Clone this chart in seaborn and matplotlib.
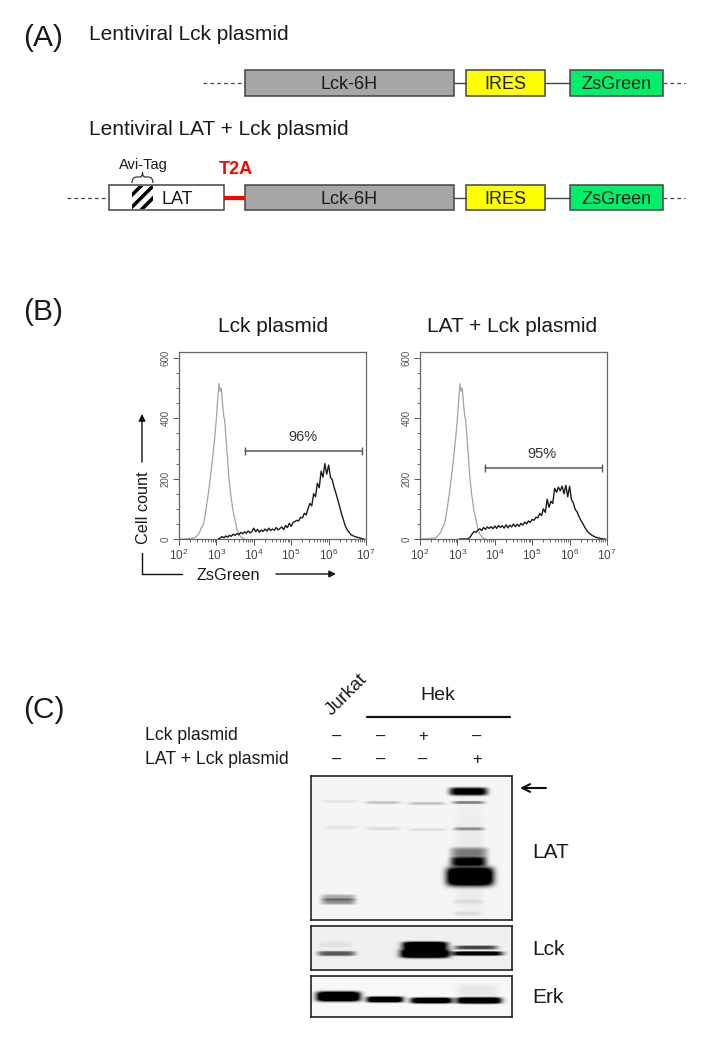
import numpy as np
import pandas as pd
import seaborn as sns
import matplotlib
matplotlib.use('Agg')
from matplotlib import pyplot as plt
from matplotlib.patches import Rectangle, Polygon, PathPatch
from matplotlib.path import Path
from matplotlib.ticker import LogLocator, MultipleLocator, NullFormatter

sns.set_theme(style='white')
plt.rcParams['font.family'] = ['Liberation Sans', 'DejaVu Sans']

W, H = 719, 1041

# histogram values, log10(ZsGreen) vs cell count
gray_x = [2.0, 2.1, 2.2, 2.3, 2.4, 2.45, 2.5, 2.55, 2.6, 2.65, 2.7, 2.75, 2.8, 2.85, 2.9, 2.95, 3.0, 3.03, 3.07,
          3.1, 3.13, 3.17, 3.2, 3.22, 3.25, 3.3, 3.33, 3.38, 3.44, 3.5, 3.55, 3.6, 3.67, 3.75]
gray_y = [0, 0, 1, 2, 4, 7, 14, 22, 38, 48, 80, 120, 165, 215, 270, 330, 400, 455, 515,
          490, 500, 440, 405, 395, 345, 265, 207, 150, 96, 62, 32, 16, 5, 0]

black_x = [3.05, 3.1, 3.15, 3.2, 3.25, 3.3, 3.35, 3.4, 3.45, 3.5, 3.55, 3.6, 3.65, 3.7, 3.75, 3.8, 3.85, 3.9, 3.95,
           4.0, 4.05, 4.1, 4.15, 4.2, 4.25, 4.3, 4.35, 4.4, 4.45, 4.5, 4.55, 4.6, 4.65, 4.7, 4.75, 4.8, 4.85, 4.9,
           4.95, 5.0, 5.05, 5.1, 5.15, 5.2, 5.25, 5.3, 5.35, 5.4, 5.45, 5.5, 5.55, 5.6, 5.65, 5.7, 5.75, 5.8, 5.85,
           5.9, 5.95, 6.0, 6.05, 6.1, 6.15, 6.2, 6.25, 6.3, 6.35, 6.4, 6.45, 6.5, 6.55, 6.6, 6.65, 6.7, 6.75, 6.8,
           6.85, 6.9, 6.95]
lck_y = [0, 3, 8, 4, 10, 6, 12, 9, 16, 12, 18, 14, 22, 17, 24, 19, 27, 20, 25,
         36, 24, 32, 22, 30, 25, 33, 26, 36, 28, 33, 29, 38, 30, 35, 40, 31, 45, 38,
         52, 42, 55, 58, 62, 60, 72, 70, 85, 80, 100, 118, 110, 150, 140, 185, 170, 225, 205,
         250, 215, 245, 205, 195, 170, 150, 128, 105, 82, 62, 42, 30, 22, 14, 11, 8, 6, 5,
         3, 1, 0]
latlck_y = [0, 0, 0, 0, 0, 2, 8, 18, 25, 22, 30, 34, 28, 38, 32, 40, 35, 41, 34,
            43, 35, 45, 38, 44, 36, 47, 37, 46, 40, 50, 41, 49, 42, 52, 46, 56, 50, 60,
            55, 65, 62, 72, 70, 85, 78, 100, 88, 132, 105, 125, 118, 168, 155, 172, 160, 175, 150,
            178, 140, 175, 130, 120, 98, 90, 75, 62, 52, 40, 30, 22, 17, 12, 9, 6, 4, 3,
            1, 0, 0]

# western blot bands: x0, x1, y centre, half height, strength
lat_bands = pd.DataFrame({
    'x0': [449, 452, 323, 365, 408, 453, 323, 365, 408, 453, 321, 321, 450, 450, 446, 453, 453, 455],
    'x1': [487, 484, 357, 400, 445, 484, 357, 400, 445, 484, 355, 355, 487, 486, 493, 482, 480, 483],
    'y': [791, 802, 801, 802, 803, 828, 827, 828, 829, 829, 897, 901, 852, 861, 876, 901, 913, 860],
    'h': [4, 1.5, 1.5, 1.5, 1.5, 1.5, 2, 2, 1.5, 1.5, 3, 3, 5, 4.5, 9.5, 2, 2, 60],
    'v': [1.1, .45, .07, .2, .2, .25, .07, .1, .1, .15, .3, .4, .45, 1.0, 1.5, .08, .08, .04],
})
lck_bands = pd.DataFrame({
    'x0': [317, 402, 400, 454, 452, 318],
    'x1': [355, 447, 449, 497, 502, 352],
    'y': [953, 945, 953, 947, 953, 944],
    'h': [2.5, 3.8, 4.5, 2, 2.2, 3],
    'v': [.6, 1.4, 1.5, .7, 1.2, .06],
})
erk_bands = pd.DataFrame({
    'x0': [316, 366, 410, 456, 457],
    'x1': [360, 403, 452, 501, 498],
    'y': [996, 999, 1000, 1000, 990],
    'h': [5, 3, 3, 3.2, 7],
    'v': [1.5, 1.3, 1.3, 1.4, .07],
})

# plasmid map, x ranges and colours
row1_boxes = [(245, 454, '#a6a6a6', 'Lck-6H'), (466, 545, '#ffff00', 'IRES'), (570, 663, '#00ee6c', 'ZsGreen')]
row2_boxes = row1_boxes + [(109, 224, 'white', '')]
lane_marks_x = [337, 381, 423, 477]
lck_marks = ['–', '–', '+', '–']
latlck_marks = ['–', '–', '–', '+']


def hist_panel(fig, left, y_curve, label_pct, bar_x, bar_count):
    ax = fig.add_axes([left / W, 1 - 539 / H, 187 / W, 187 / H])
    gray = pd.DataFrame({'x': 10.0 ** np.array(gray_x), 'y': gray_y})
    black = pd.DataFrame({'x': 10.0 ** np.array(black_x), 'y': y_curve})
    sns.lineplot(data=gray, x='x', y='y', color='#a3a3a3', lw=0.9, ax=ax, estimator=None, sort=False)
    sns.lineplot(data=black, x='x', y='y', color='#1c1c1c', lw=1.0, ax=ax, estimator=None, sort=False)
    ax.set_xscale('log')
    ax.set_xlim(1e2, 1e7)
    ax.set_ylim(0, 620)
    ax.set_xlabel('')
    ax.set_ylabel('')
    ax.xaxis.set_major_locator(LogLocator(base=10, numticks=8))
    ax.xaxis.set_minor_locator(LogLocator(base=10, subs=np.arange(2, 10), numticks=8))
    ax.xaxis.set_minor_formatter(NullFormatter())
    ax.yaxis.set_major_locator(MultipleLocator(200))
    ax.yaxis.set_minor_locator(MultipleLocator(50))
    ax.tick_params(axis='x', which='major', length=4, width=0.7, color='#555555', labelsize=8.5,
                   labelcolor='#444444', bottom=True, pad=2)
    ax.tick_params(axis='x', which='minor', length=2, width=0.6, color='#555555', bottom=True)
    ax.tick_params(axis='y', which='major', length=4, width=0.7, color='#555555', labelsize=7,
                   labelcolor='#555555', left=True, pad=2)
    ax.tick_params(axis='y', which='minor', length=2, width=0.6, color='#555555', left=True)
    plt.setp(ax.get_yticklabels(), rotation=90, va='center')
    for s in ax.spines.values():
        s.set_color('#666666')
        s.set_linewidth(0.9)
    ax.plot(bar_x, [bar_count, bar_count], color='#555555', lw=1.1, marker='|', ms=6, mew=1.0)
    ax.text(10 ** np.mean(np.log10(bar_x)) * 0.95, bar_count + 22, label_pct, ha='center', va='bottom',
            fontsize=10.5, color='#333333')
    return ax


def blot_panel(fig, x0, x1, y0, y1, bands, bg):
    xs = np.arange(x0, x1, 0.5)
    ys = np.arange(y0, y1, 0.5)
    X, Y = np.meshgrid(xs, ys)
    dark = np.zeros_like(X)
    for b in bands.itertuples():
        cx = (b.x0 + b.x1) / 2
        hw = (b.x1 - b.x0) / 2
        dark += b.v * np.exp(-((X - cx) / hw) ** 6) * np.exp(-((Y - b.y) / b.h) ** 4)
    img = np.clip(bg - dark, 0, 1)
    ax = fig.add_axes([x0 / W, 1 - y1 / H, (x1 - x0) / W, (y1 - y0) / H])
    sns.heatmap(img, cmap='gray', vmin=0, vmax=1, cbar=False, xticklabels=False, yticklabels=False, ax=ax,
                rasterized=True)
    for s in ax.spines.values():
        s.set_visible(True)
        s.set_color('#222222')
        s.set_linewidth(1.2)
    return ax


fig = plt.figure(figsize=(W / 100, H / 100), dpi=100)

hist_panel(fig, 179, lck_y, '96%', [10 ** 3.76, 10 ** 6.89], 293)
hist_panel(fig, 420, latlck_y, '95%', [10 ** 3.73, 10 ** 6.86], 236)

blot_panel(fig, 311, 512, 776, 920, lat_bands, 0.96)
blot_panel(fig, 311, 512, 926, 970, lck_bands, 0.94)
blot_panel(fig, 311, 512, 976, 1017, erk_bands, 0.97)

# overlay in pixel coordinates for the diagram and labels
ov = fig.add_axes([0, 0, 1, 1], zorder=5)
ov.set_xlim(0, W)
ov.set_ylim(H, 0)
ov.axis('off')
ov.patch.set_alpha(0)


def label(x, y, s, size=15, **kw):
    kw.setdefault('ha', 'left')
    kw.setdefault('va', 'center')
    kw.setdefault('color', '#1a1a1a')
    ov.text(x, y + 1.5, s, fontsize=size, **kw)


def plasmid_row(y0, y1, boxes, dash_start):
    mid = (y0 + y1) / 2
    ov.plot([dash_start, boxes[0][0] if dash_start > 150 else 109], [mid, mid], color='#444444', lw=0.9, dashes=(3, 2.5))
    ov.plot([663, 685], [mid, mid], color='#444444', lw=0.9, dashes=(3, 2.5))
    ov.plot([454, 466], [mid, mid], color='#444444', lw=1.0)
    ov.plot([545, 570], [mid, mid], color='#444444', lw=1.0)
    for x0, x1, col, txt in boxes:
        ov.add_patch(Rectangle((x0, y0), x1 - x0, y1 - y0, fc=col, ec='#444444', lw=1.1))
        if txt:
            label((x0 + x1) / 2, mid, txt, 13, ha='center')


label(23, 36, '(A)', 21.5)
label(23, 311, '(B)', 21.5)
label(23, 709, '(C)', 21.5)

label(89, 33, 'Lentiviral Lck plasmid')
label(89, 128, 'Lentiviral LAT + Lck plasmid')
plasmid_row(70, 96, row1_boxes, 203)
plasmid_row(185, 210, row2_boxes, 67)

# hatched Avi-Tag
for sx in [117, 129, 141]:
    pts = [(sx - 2.5, 210), (sx + 2.5, 210), (sx + 27.5, 185), (sx + 22.5, 185)]
    stripe = Polygon(pts, fc='black', ec='none')
    ov.add_patch(stripe)
    stripe.set_clip_path(Rectangle((132, 186), 21, 23, transform=ov.transData))
label(177, 198, 'LAT', 13, ha='center')
label(143, 163, 'Avi-Tag', 10.5, ha='center')
brace = Path([(132, 183), (132, 177), (137, 177), (140, 177), (142.5, 177), (142.5, 172),
              (142.5, 177), (145, 177), (148, 177), (153, 177), (153, 183)],
             [Path.MOVETO, Path.CURVE3, Path.CURVE3, Path.LINETO, Path.CURVE3, Path.CURVE3,
              Path.CURVE3, Path.CURVE3, Path.LINETO, Path.CURVE3, Path.CURVE3])
ov.add_patch(PathPatch(brace, fc='none', ec='#222222', lw=0.8))
ov.plot([224, 245], [197.5, 197.5], color='#ff0000', lw=3, solid_capstyle='butt')
label(236, 168, 'T2A', 13, ha='center', color='#ff0000', fontweight='bold')

label(273, 325, 'Lck plasmid', ha='center')
label(512, 325, 'LAT + Lck plasmid', ha='center')

# axis arrows of flow plots
label(143, 506, 'Cell count', 11.7, ha='center', rotation=90)
label(228, 574, 'ZsGreen', 11.7, ha='center')
arrow = dict(arrowstyle='-|>', color='#111111', lw=1.0, mutation_scale=10, shrinkA=0, shrinkB=0)
ov.annotate('', xy=(142, 414), xytext=(142, 462), arrowprops=arrow)
ov.annotate('', xy=(336, 574), xytext=(276, 574), arrowprops=arrow)
ov.plot([142, 142, 182], [553, 574, 574], color='#111111', lw=1.0)

# blot header
label(347, 693, 'Jurkat', 13.5, ha='center', rotation=45)
label(438, 694, 'Hek', 14, ha='center')
ov.plot([367, 510], [717, 717], color='#111111', lw=1.6)
label(145, 734, 'Lck plasmid', 12.7)
label(145, 758, 'LAT + Lck plasmid', 12.7)
for mx, a, b in zip(lane_marks_x, lck_marks, latlck_marks):
    label(mx, 735, a, 12, ha='center')
    label(mx, 758, b, 12, ha='center')
label(532, 851, 'LAT', 15)
label(532, 948, 'Lck', 15)
label(532, 996, 'Erk', 15)
ov.annotate('', xy=(520, 788), xytext=(546, 788),
            arrowprops=dict(arrowstyle='->', color='#111111', lw=1.5, mutation_scale=14, shrinkA=0, shrinkB=0))

plt.savefig('out.png', dpi=100)
